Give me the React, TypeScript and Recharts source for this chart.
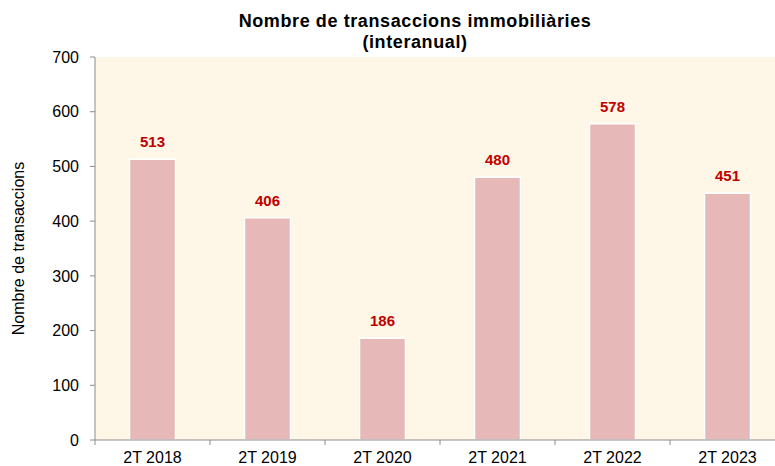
import { Bar, BarChart, LabelList, XAxis, YAxis } from "recharts";

const periods = ["2T 2018", "2T 2019", "2T 2020", "2T 2021", "2T 2022", "2T 2023"];
const transactions = [513, 406, 186, 480, 578, 451];
const yTicks = [0, 100, 200, 300, 400, 500, 600, 700];

const data = periods.map((name, i) => ({ name, value: transactions[i] }));

const FONT = "'Liberation Sans', Arial, sans-serif";
const AXIS = "#8c8c8c";
const CHART_W = 785;
const Y_AXIS_W = 95;
const BAND = (CHART_W - Y_AXIS_W) / periods.length;

function PeriodTick(props: any) {
  const { x, y, payload, index } = props;
  return (
    <g>
      {index === 0 && (
        <line x1={x - BAND / 2} y1={y} x2={x - BAND / 2} y2={y + 5} stroke={AXIS} />
      )}
      <line x1={x + BAND / 2} y1={y} x2={x + BAND / 2} y2={y + 5} stroke={AXIS} />
      <text x={x} y={y + 23} textAnchor="middle" fontSize={16} fontFamily={FONT} fill="#000">
        {payload.value}
      </text>
    </g>
  );
}

export default function App() {
  return (
    <div
      style={{
        position: "fixed",
        left: 0,
        top: 0,
        width: 775,
        height: 466,
        overflow: "hidden",
        background: "#fff",
        fontFamily: FONT,
      }}
    >
      <div
        style={{
          position: "absolute",
          left: 165,
          width: 500,
          top: 11,
          textAlign: "center",
          fontWeight: "bold",
          fontSize: 18,
          letterSpacing: 0.6,
          lineHeight: "21px",
          color: "#000",
        }}
      >
        Nombre de transaccions immobiliàries
        <br />
        (interanual)
      </div>
      <BarChart
        width={CHART_W}
        height={466}
        data={data}
        margin={{ top: 57, right: 0, left: 0, bottom: 0 }}
        barCategoryGap="30%"
      >
        <rect x={Y_AXIS_W} y={57} width={CHART_W - Y_AXIS_W} height={383} fill="#fef6e6" />
        <XAxis
          dataKey="name"
          height={26}
          tickLine={false}
          tickSize={0}
          tickMargin={0}
          tick={<PeriodTick />}
          axisLine={{ stroke: AXIS }}
          interval={0}
        />
        <YAxis
          width={Y_AXIS_W}
          domain={[0, 700]}
          ticks={yTicks}
          interval={0}
          tickSize={5}
          tickMargin={11}
          tickLine={{ stroke: AXIS }}
          axisLine={{ stroke: AXIS }}
          tick={{ fontSize: 16, fontFamily: FONT, fill: "#000" }}
          label={{
            value: "Nombre de transaccions",
            angle: -90,
            position: "insideLeft",
            offset: 18,
            style: { textAnchor: "middle", fontSize: 16, fontFamily: FONT, fill: "#000" },
          }}
        />
        <Bar
          dataKey="value"
          fill="#e6b8b7"
          stroke="#ffffff"
          strokeWidth={1.5}
          isAnimationActive={false}
        >
          <LabelList
            dataKey="value"
            position="top"
            offset={12}
            fill="#c00000"
            fontSize={15}
            fontWeight="bold"
            fontFamily={FONT}
          />
        </Bar>
      </BarChart>
    </div>
  );
}
